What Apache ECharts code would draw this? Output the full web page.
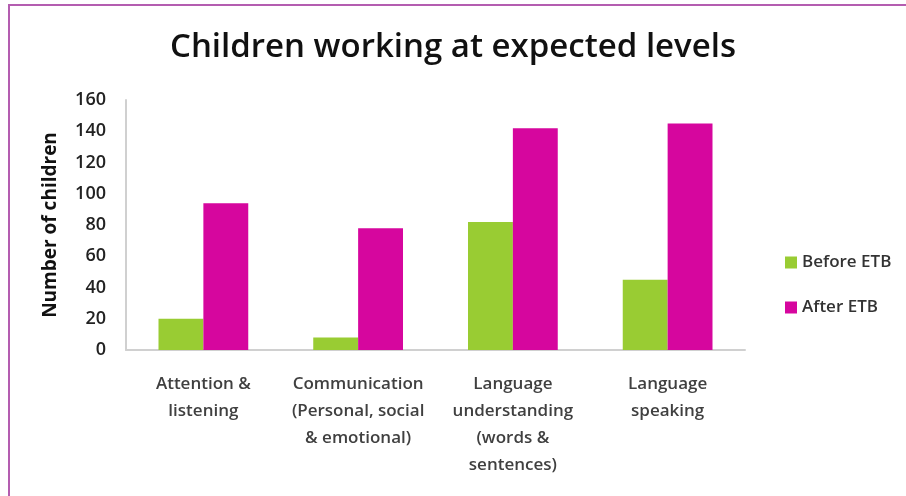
<!DOCTYPE html>
<html>
<head>
<meta charset="utf-8">
<script src="https://cdn.jsdelivr.net/npm/echarts@6/dist/echarts.min.js"></script>
<style>
    html, body { margin: 0; padding: 0; background: #fff; }
    #frame {
        position: absolute; left: 8px; top: 4px; width: 898px; height: 492px;
        border-top: 2px solid #b45db0; border-left: 2px solid #b45db0;
        box-sizing: border-box;
    }
    #chart { position: absolute; left: 0; top: 0; width: 906px; height: 496px; }
</style>
</head>
<body>
<div id="frame"></div>
<div id="chart"></div>
<script>
const categories = [
    'Attention &\nlistening',
    'Communication\n(Personal, social\n& emotional)',
    'Language\nunderstanding\n(words &\nsentences)',
    'Language\nspeaking'
];
const beforeETB = [20, 8, 82, 45];
const afterETB = [94, 78, 142, 145];
const yTicks = [0, 20, 40, 60, 80, 100, 120, 140, 160];

const chart = echarts.init(document.getElementById('chart'));
const font = '"Open Sans", Lato, sans-serif';

const option = {
    animation: false,
    textStyle: { fontFamily: font },
    title: {
        text: 'Children working at expected levels',
        left: 'center',
        top: 26,
        textStyle: { fontFamily: font, fontSize: 33, fontWeight: 600, color: '#111' }
    },
    legend: {
        orient: 'vertical',
        left: 780,
        top: 249,
        itemWidth: 12,
        itemHeight: 12,
        itemGap: 28,
        icon: 'rect',
        textStyle: { fontFamily: font, fontSize: 17, fontWeight: 600, color: '#333' },
        data: ['Before ETB', 'After ETB']
    },
    grid: { left: 126, right: 161, top: 100, bottom: 146 },
    xAxis: {
        type: 'category',
        data: categories,
        axisLine: { lineStyle: { color: '#d0d0d0', width: 2 } },
        axisTick: { show: false },
        axisLabel: {
            interval: 0,
            hideOverlap: false,
            fontFamily: font, fontSize: 17, fontWeight: 600, color: '#404040',
            lineHeight: 27, margin: 21
        }
    },
    yAxis: {
        type: 'value',
        min: yTicks[0],
        max: yTicks[yTicks.length - 1],
        interval: 20,
        name: 'Number of children',
        nameLocation: 'middle',
        nameGap: 66,
        nameTextStyle: { fontFamily: font, fontSize: 19, fontWeight: 'bold', color: '#111' },
        axisLine: { show: true, lineStyle: { color: '#d0d0d0', width: 2 } },
        axisTick: { show: false },
        splitLine: { show: false },
        axisLabel: { fontFamily: font, fontSize: 18, fontWeight: 600, color: '#222', margin: 20 }
    },
    series: [
        {
            name: 'Before ETB',
            type: 'bar',
            data: beforeETB,
            barGap: '0%',
            barCategoryGap: '42%',
            itemStyle: { color: '#99cc33' }
        },
        {
            name: 'After ETB',
            type: 'bar',
            data: afterETB,
            itemStyle: { color: '#d6069e' }
        }
    ]
};

chart.setOption(option);
</script>
</body>
</html>
